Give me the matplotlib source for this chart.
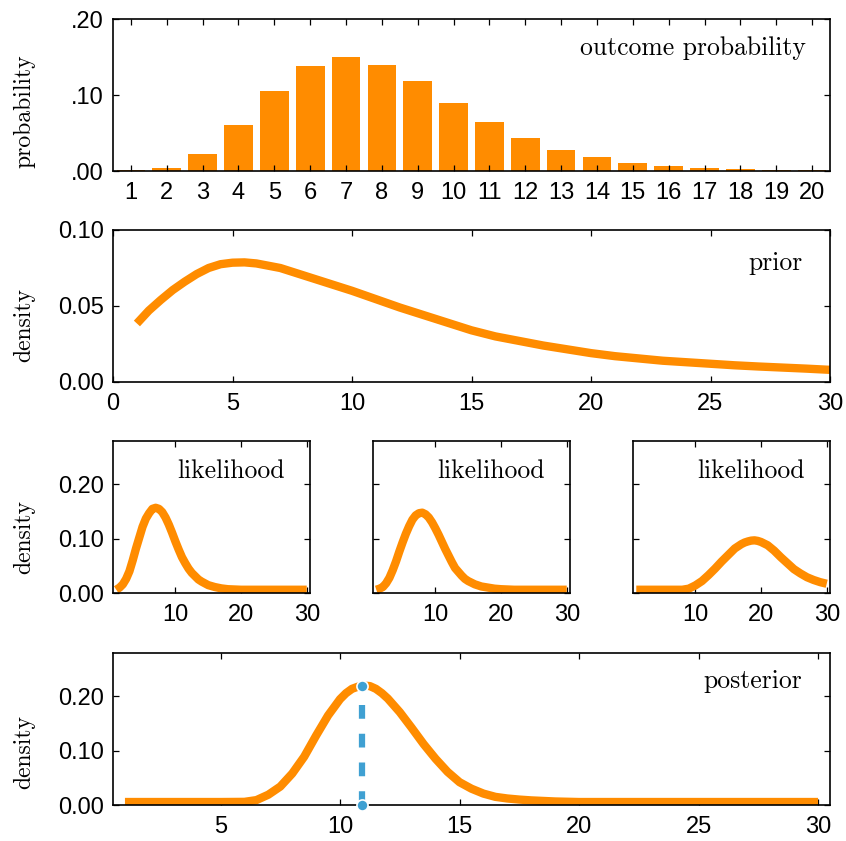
import matplotlib
matplotlib.use("Agg")
import matplotlib.pyplot as plt

plt.rcParams['font.family'] = ['Liberation Sans', 'DejaVu Sans']

ORANGE = '#FF8C00'
BLUE = '#3FA0D2'

# outcome probability (bars)
outcomes = list(range(1, 21))
outcome_prob = [0.0008, 0.0035, 0.022, 0.060, 0.105, 0.138, 0.150, 0.140, 0.118, 0.090,
                0.065, 0.044, 0.028, 0.018, 0.010, 0.0065, 0.004, 0.002, 0.001, 0.0008]

# prior density
prior_x = [1, 1.5, 2, 2.5, 3, 3.5, 4, 4.5, 5, 5.5, 6, 7, 8, 9, 10, 11, 12, 13, 14, 15,
           16, 17, 18, 19, 20, 21, 22, 23, 24, 25, 26, 27, 28, 29, 30]
prior_y = [0.0385, 0.047, 0.054, 0.0605, 0.066, 0.071, 0.075, 0.0775, 0.0785, 0.0787, 0.078,
           0.075, 0.070, 0.065, 0.060, 0.0545, 0.049, 0.044, 0.039, 0.034,
           0.030, 0.027, 0.024, 0.0215, 0.019, 0.017, 0.0155, 0.014, 0.013, 0.012,
           0.011, 0.0102, 0.0095, 0.0088, 0.008]

# likelihoods
lik1_x = [1, 1.5, 2, 2.5, 3, 3.5, 4, 4.5, 5, 5.5, 6, 6.5, 7, 7.5, 8, 8.5, 9, 9.5, 10,
          10.5, 11, 11.5, 12, 12.5, 13, 13.5, 14, 15, 16, 17, 18, 19, 20, 22, 24, 26, 28, 30]
lik1 = [0.006, 0.010, 0.016, 0.026, 0.040, 0.060, 0.082, 0.102, 0.122, 0.137, 0.147,
        0.155, 0.157, 0.155, 0.149, 0.139, 0.126, 0.111, 0.095,
        0.080, 0.066, 0.055, 0.045, 0.037, 0.031, 0.025, 0.021, 0.0145, 0.011, 0.0085,
        0.007, 0.0065, 0.006, 0.006, 0.006, 0.006, 0.006, 0.006]
lik2_x = [1, 1.5, 2, 2.5, 3, 3.5, 4, 4.5, 5, 5.5, 6, 6.5, 7, 7.5, 8, 8.5, 9, 9.5, 10,
          10.5, 11, 11.5, 12, 12.5, 13, 13.5, 14, 14.5, 15, 16, 17, 18, 19, 20, 21,
          22, 24, 26, 28, 30]
lik2 = [0.006, 0.008, 0.011, 0.018, 0.028, 0.042, 0.058, 0.076, 0.093, 0.109, 0.123,
        0.135, 0.143, 0.147, 0.148, 0.145, 0.139, 0.130, 0.119,
        0.107, 0.094, 0.081, 0.069, 0.057, 0.046, 0.039, 0.032, 0.026, 0.022, 0.016,
        0.012, 0.010, 0.008, 0.007, 0.0065, 0.006, 0.006, 0.006, 0.006, 0.006]
lik3_x = [1, 2, 3, 4, 5, 6, 7, 8, 9, 10, 11, 12, 13, 14, 15, 16, 17, 17.5, 18, 18.5,
          19, 19.5, 20, 20.5, 21, 22, 23, 24, 25, 26, 27, 28, 29, 30]
lik3 = [0.006, 0.006, 0.006, 0.006, 0.006, 0.006, 0.006, 0.006, 0.008, 0.014,
        0.022, 0.033, 0.045, 0.058, 0.070, 0.082, 0.090, 0.093, 0.095, 0.0965,
        0.097, 0.096, 0.094, 0.091, 0.088, 0.078, 0.066, 0.055, 0.044, 0.036,
        0.029, 0.024, 0.020, 0.017]

# posterior density
post_x = [1, 2, 3, 4, 5, 6, 6.5, 7, 7.5, 8, 8.5, 9, 9.5, 10, 10.25, 10.5, 10.75, 11,
          11.25, 11.5, 11.75, 12, 12.5, 13, 13.5, 14, 14.5, 15, 15.5, 16, 16.5, 17,
          17.5, 18, 19, 20, 22, 24, 26, 28, 30]
post_y = [0.0055, 0.0055, 0.0055, 0.0055, 0.0055, 0.0058, 0.009, 0.019, 0.034, 0.058,
          0.089, 0.128, 0.165, 0.195, 0.206, 0.214, 0.218, 0.220,
          0.219, 0.214, 0.206, 0.196, 0.171, 0.142, 0.112, 0.085, 0.061, 0.042, 0.030,
          0.021, 0.015, 0.012, 0.010, 0.0085, 0.0065, 0.0055, 0.0055, 0.0055, 0.0055,
          0.0055, 0.0055]
post_mode_x = 10.9
post_mode_y = 0.220

W, H = 846, 841
fig = plt.figure(figsize=(W / 100, H / 100), dpi=100)


def px_axes(left, top, width, height):
    return fig.add_axes([left / W, 1 - (top + height) / H, width / W, height / H])


def style(ax):
    ax.tick_params(direction='in', top=True, right=True, length=4.5, width=0.9,
                   labelsize=17, colors='black')
    ax.tick_params(axis='y', pad=6.5)
    ax.tick_params(axis='x', pad=8)
    for s in ax.spines.values():
        s.set_linewidth(1.2)


def label(ax, text, xr, yc):
    ax.text(xr, yc, text, transform=ax.transAxes, ha='right', va='center',
            fontsize=18.5, family='cmr10')


def ylab(text, ycenter_px):
    fig.text(24 / W, 1 - ycenter_px / H, text, rotation=90, ha='center', va='center',
             fontsize=17, family='cmr10')


lw = 6

# row 1
ax1 = px_axes(113, 19, 717, 152)
ax1.bar(outcomes, outcome_prob, width=0.8, color=ORANGE)
ax1.set_xlim(0.5, 20.5)
ax1.set_ylim(0, 0.20)
ax1.set_xticks(outcomes)
ax1.set_yticks([0, 0.10, 0.20], ['.00', '.10', '.20'])
style(ax1)
label(ax1, 'outcome probability', 1 - 24 / 717, 0.81)
ylab('probability', 111)

# row 2
ax2 = px_axes(113, 230, 717, 152)
ax2.plot(prior_x, prior_y, color=ORANGE, lw=lw, solid_capstyle='butt')
ax2.set_xlim(0, 30)
ax2.set_ylim(0, 0.10)
ax2.set_xticks([0, 5, 10, 15, 20, 25, 30])
ax2.set_yticks([0, 0.05, 0.10], ['0.00', '0.05', '0.10'])
style(ax2)
label(ax2, 'prior', 1 - 27 / 717, 0.785)
ylab('density', 325)

# row 3
panels = [(113, lik1_x, lik1), (373, lik2_x, lik2), (633, lik3_x, lik3)]
for i, (left, lx, ly) in enumerate(panels):
    ax = px_axes(left, 441, 197, 152)
    ax.plot(lx, ly, color=ORANGE, lw=lw, solid_capstyle='butt')
    ax.set_xlim(0.5, 30.5)
    ax.set_ylim(0, 0.28)
    ax.set_xticks([10, 20, 30])
    if i == 0:
        ax.set_yticks([0, 0.10, 0.20], ['0.00', '0.10', '0.20'])
    else:
        ax.set_yticks([0, 0.10, 0.20], ['', '', ''])
    style(ax)
    label(ax, 'likelihood', 1 - 25 / 197, 0.80)
ylab('density', 537)

# row 4
ax4 = px_axes(113, 653, 717, 152)
ax4.plot(post_x, post_y, color=ORANGE, lw=lw, solid_capstyle='butt', zorder=2)
ax4.plot([post_mode_x, post_mode_x], [0, post_mode_y], color=BLUE, lw=4.5,
         dashes=(2.2, 2.4), marker='o', ms=8, mec='white', mew=1.2, mfc=BLUE,
         clip_on=False, zorder=3)
ax4.set_xlim(0.5, 30.5)
ax4.set_ylim(0, 0.28)
ax4.set_xticks([5, 10, 15, 20, 25, 30])
ax4.set_yticks([0, 0.10, 0.20], ['0.00', '0.10', '0.20'])
style(ax4)
label(ax4, 'posterior', 1 - 28 / 717, 0.815)
ylab('density', 752)

fig.savefig('out.png', dpi=100)
